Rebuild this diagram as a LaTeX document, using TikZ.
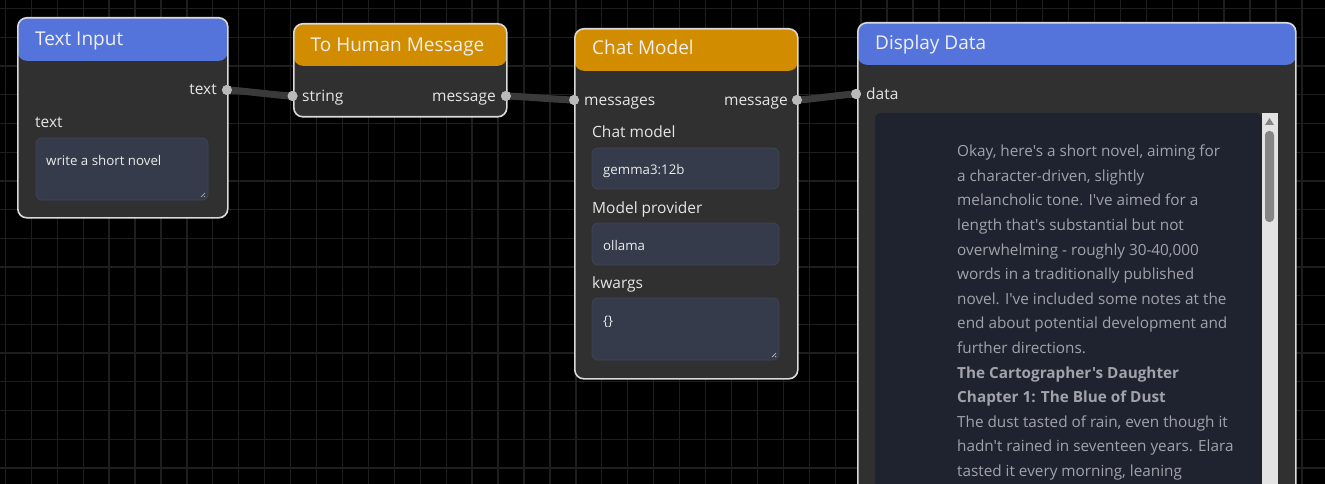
\documentclass[tikz,border=0pt]{standalone}
\usepackage{fontspec}
\setmainfont{Open Sans}[Ligatures=TeXOff]
\definecolor{bodygray}{HTML}{303030}
\definecolor{edgegray}{HTML}{DADADA}
\definecolor{hdrblue}{HTML}{5474DC}
\definecolor{hdrorange}{HTML}{D28C00}
\definecolor{fieldbg}{HTML}{353B4A}
\definecolor{fieldedge}{HTML}{3E4556}
\definecolor{showbg}{HTML}{1F2330}
\definecolor{wiregray}{HTML}{3A3A3A}
\definecolor{gridgray}{HTML}{1E1E1E}
\definecolor{showtext}{HTML}{A2A3AA}
\tikzset{
	block/.style={draw=edgegray, line width=1.6pt, fill=bodygray, rounded corners=9pt, anchor=north west, inner sep=0pt},
	header/.style 2 args={path picture={\fill[#1] (path picture bounding box.north west) rectangle ([yshift=-#2]path picture bounding box.north east);}},
	title/.style={anchor=base west, inner sep=0pt, text=white!94!black, font=\fontsize{19}{21}\selectfont},
	label/.style={anchor=base west, inner sep=0pt, text=white!90!black, font=\fontsize{15.5}{18}\selectfont},
	field/.style={draw=fieldedge, fill=fieldbg, rounded corners=6pt, line width=0.8pt},
	value/.style={anchor=base west, inner sep=0pt, text=white!92!black, font=\fontsize{13.3}{15}\selectfont},
	port/.style={circle, fill=black!27, minimum size=10pt, inner sep=0pt},
	wire/.style={draw=wiregray, line width=7pt, out=0, in=180, looseness=0.4},
	grip/.style={draw=white!75!black, line width=0.7pt}
}
\begin{document}
\begin{tikzpicture}[x=1pt, y=-1pt]
		\useasboundingbox (0,0) rectangle (1325,484);
		\clip (0,0) rectangle (1325,484);
		\fill[black] (0,0) rectangle (1325,484);
		\foreach \x in {0, ..., 51} {
			\draw[gridgray, line width=1.3pt] ({5.4+25.93*\x}, 0) -- ++(0, 484);
		};
		\foreach \y in {0, ..., 16} {
			\draw[gridgray, line width=1.3pt] (0, {8.7+28.7*\y}) -- ++(1325, 0);
		};
		\node[block, header={hdrblue}{43pt}, minimum width=210pt, minimum height=200pt] (textinput) at (17, 17) {};
		\node[block, header={hdrorange}{42pt}, minimum width=213pt, minimum height=93pt] (tohuman) at (293, 23) {};
		\node[block, header={hdrorange}{42pt}, minimum width=223pt, minimum height=350pt] (chatmodel) at (574, 28) {};
		\node[block, header={hdrblue}{42pt}, minimum width=438pt, minimum height=520pt] (display) at (857, 22) {};
		\node[title] (textinputtitle) at (35, 46) {Text Input};
		\node[title] (tohumantitle) at (310.5, 51.5) {To Human Message};
		\node[title] (chatmodeltitle) at (592, 55) {Chat Model};
		\node[title] (displaytitle) at (875, 50) {Display Data};
		\draw[field] (36, 138) rectangle (208, 200);
		\draw[grip] (205, 193) -- (201, 197) (205, 196) -- (204, 197);
		\draw[field] (592, 148) rectangle (779, 189);
		\draw[field] (592, 223) rectangle (779, 265);
		\draw[field] (592, 298) rectangle (779, 360);
		\draw[grip] (776, 353) -- (772, 357) (776, 356) -- (775, 357);
		\node[label, anchor=base east] (textout) at (217, 95) {text};
		\node[label] (textlabel) at (35, 128) {text};
		\node[value] (textvalue) at (46, 165) {write a short novel};
		\node[label] (stringin) at (302, 101.5) {string};
		\node[label, anchor=base east] (messageout) at (496, 101.5) {message};
		\node[label] (messagesin) at (584, 106) {messages};
		\node[label, anchor=base east] (chatout) at (788, 106) {message};
		\node[label] (modellabel) at (592, 138) {Chat model};
		\node[value] (modelvalue) at (603, 175) {gemma3:12b};
		\node[label] (providerlabel) at (592, 213) {Model provider};
		\node[value] (providervalue) at (603, 250) {ollama};
		\node[label] (kwargslabel) at (592, 288) {kwargs};
		\node[value] (kwargsvalue) at (603, 325) {\{\}};
		\node[label] (datain) at (866, 100) {data};
		\fill[showbg, rounded corners=6pt] (875, 113) rectangle (1262, 520);
		\fill[white!89!black] (1262, 113) rectangle (1278, 520);
		\fill[black!48, rounded corners=4pt] (1265, 131) rectangle (1274, 222);
		\fill[black!48] (1265, 125) -- (1274, 125) -- (1269.5, 118) -- cycle;
		\foreach \t [count=\i] in {{Okay, here's a short novel, aiming for}, {a character-driven, slightly}, {melancholic tone. I've aimed for a}, {length that's substantial but not}, {overwhelming - roughly 30-40,000}, {words in a traditionally published}, {novel. I've included some notes at the}, {end about potential development and}, {further directions.}, {\textbf{The Cartographer's Daughter}}, {\textbf{Chapter 1: The Blue of Dust}}, {The dust tasted of rain, even though it}, {hadn't rained in seventeen years. Elara}, {tasted it every morning, leaning}} {
			\node[anchor=base west, inner sep=0pt, text=showtext, font=\fontsize{15.3}{18}\selectfont] (line\i) at (957, {156.7+24.6*(\i-1)}) {\t};
		};
		\node[port] (tiout) at (227, 90) {};
		\node[port] (thmin) at (292.5, 96) {};
		\node[port] (thmout) at (506, 96) {};
		\node[port] (cmin) at (574, 100) {};
		\node[port] (cmout) at (797, 100) {};
		\node[port] (ddin) at (856, 94) {};
		\path[wire] (tiout.center) to (thmin.center);
		\path[wire] (thmout.center) to (cmin.center);
		\path[wire] (cmout.center) to (ddin.center);
		\foreach \p in {tiout, thmin, thmout, cmin, cmout, ddin} {
			\fill[black!27] (\p) circle (5pt);
		};
	\end{tikzpicture}
\end{document}
